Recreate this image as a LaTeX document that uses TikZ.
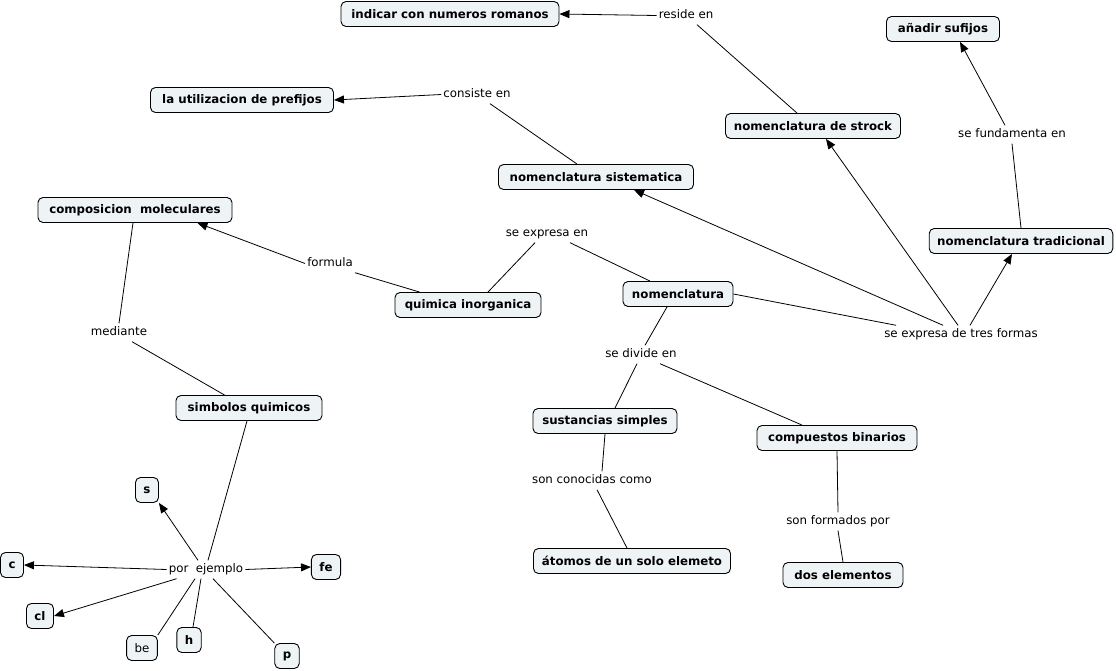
\documentclass[tikz,border=0pt]{standalone}
\usepackage{fontspec}
\setmainfont{DejaVu Sans}
\usetikzlibrary{arrows.meta}
\definecolor{boxfill}{RGB}{238,243,245}
\begin{document}
\begin{tikzpicture}[x=1pt,y=-1pt,
 box/.style={draw=black, fill=boxfill, rounded corners=5pt, line width=0.9pt, minimum height=25pt, inner xsep=8pt, inner ysep=3pt, font=\fontsize{11.8}{14}\selectfont\bfseries},
 pbox/.style={box, font=\fontsize{11.8}{14}\selectfont},
 lbl/.style={inner sep=2pt, yshift=-2.5pt, font=\fontsize{11.8}{14}\selectfont, execute at begin node=\strut},
 ln/.style={line width=0.8pt},
 arr/.style={ln, -{Triangle[length=10pt,width=8pt]}}]
\path[use as bounding box] (0,0) rectangle (1116,671);

% concept boxes
\node[box, minimum width=218pt] (ind) at (450,14) {indicar con numeros romanos};
\node[box, minimum width=113pt] (suf) at (943,29) {añadir sufijos};
\node[box, minimum width=183pt] (pref) at (242,100) {la utilizacion de prefijos};
\node[box, minimum width=175pt] (stro) at (813,126) {nomenclatura de strock};
\node[box, minimum width=195pt] (sist) at (596,177) {nomenclatura sistematica};
\node[box, minimum width=194pt] (comp) at (135,210) {composicion\ \ moleculares};
\node[box, minimum width=183pt] (trad) at (1021,241) {nomenclatura tradicional};
\node[box, minimum width=146pt] (quim) at (468,305) {quimica inorganica};
\node[box, minimum width=110pt] (nom) at (678,294) {nomenclatura};
\node[box, minimum width=146pt] (simb) at (249,408) {simbolos quimicos};
\node[box, minimum width=144pt] (sust) at (605,421) {sustancias simples};
\node[box, minimum width=160pt] (cbin) at (837,438) {compuestos binarios};
\node[box, minimum width=197pt] (atom) at (632,561) {átomos de un solo elemeto};
\node[box, minimum width=120pt] (dos) at (843,575) {dos elementos};
\node[box] (s) at (147,490) {s};
\node[box] (c) at (12,565) {c};
\node[box] (fe) at (326,567) {fe};
\node[box] (cl) at (40,616) {cl};
\node[pbox] (be) at (142,648) {be};
\node[box] (h) at (189,640) {h};
\node[box] (p) at (287,656) {p};

% linking phrases
\node[lbl] (re) at (686,13) {reside en};
\node[lbl] (ce) at (477,92) {consiste en};
\node[lbl] (fu) at (1012,132) {se fundamenta en};
\node[lbl] (se) at (547,231) {se expresa en};
\node[lbl] (fo) at (330,261) {formula};
\node[lbl] (me) at (119,330) {mediante};
\node[lbl] (x3) at (961,332) {se expresa de tres formas};
\node[lbl] (sd) at (641,352) {se divide en};
\node[lbl] (sc) at (592,478) {son conocidas como};
\node[lbl] (sf) at (838,519) {son formados por};
\node[lbl] (pe) at (206,567) {por\ \ ejemplo};

% connectors
\draw[ln] ([xshift=-16pt]stro.north) -- ([xshift=11pt]re.south);
\draw[arr] (re.west) -- (ind.east);
\draw[ln] ([xshift=-19pt]sist.north) -- ([xshift=13pt]ce.south);
\draw[arr] (ce.west) -- (pref.east);
\draw[ln] (trad.north) -- (fu.south);
\draw[arr] ([xshift=-7pt]fu.north) -- ([xshift=17pt]suf.south);
\draw[ln] ([xshift=20pt]quim.north) -- ([xshift=-12pt]se.south);
\draw[ln] ([xshift=23pt]se.south) -- ([xshift=-28pt]nom.north);
\draw[ln] ([xshift=25pt]quim.north west) -- (fo.south east);
\draw[arr] (fo.west) -- ([xshift=-35pt]comp.south east);
\draw[ln] ([xshift=-2pt]comp.south) -- (me.north);
\draw[ln] ([xshift=13pt]me.south) -- ([xshift=49pt]simb.north west);
\draw[ln] ([xshift=-2pt]simb.south) -- ([xshift=2pt]pe.north);
\draw[arr] ([xshift=-8pt]pe.north) -- (s.south east);
\draw[arr] (pe.west) -- (c.east);
\draw[arr] (pe.east) -- (fe.west);
\draw[arr] ([xshift=10pt]pe.south west) -- (cl.east);
\draw[ln] ([xshift=-11pt]pe.south) -- (be.north east);
\draw[ln] ([xshift=-5pt]pe.south) -- ([xshift=4pt]h.north);
\draw[ln] ([xshift=7pt]pe.south) -- (p.north west);
\draw[ln] (nom.east) -- ([xshift=14pt]x3.north west);
\draw[arr] ([xshift=-18pt]x3.north) -- ([xshift=38pt]sist.south);
\draw[arr] ([xshift=-3pt]x3.north) -- ([xshift=13pt]stro.south);
\draw[arr] ([xshift=9pt]x3.north) -- ([xshift=-9pt]trad.south);
\draw[ln] ([xshift=-11pt]nom.south) -- ([xshift=4pt]sd.north);
\draw[ln] ([xshift=-4pt]sd.south) -- ([xshift=10pt]sust.north);
\draw[ln] ([xshift=19pt]sd.south) -- ([xshift=-35pt]cbin.north);
\draw[ln] (sust.south) -- ([xshift=10pt]sc.north);
\draw[ln] ([xshift=5pt]sc.south) -- ([xshift=-5pt]atom.north);
\draw[ln] (cbin.south) -- (sf.north);
\draw[ln] (sf.south) -- (dos.north);
\end{tikzpicture}
\end{document}
